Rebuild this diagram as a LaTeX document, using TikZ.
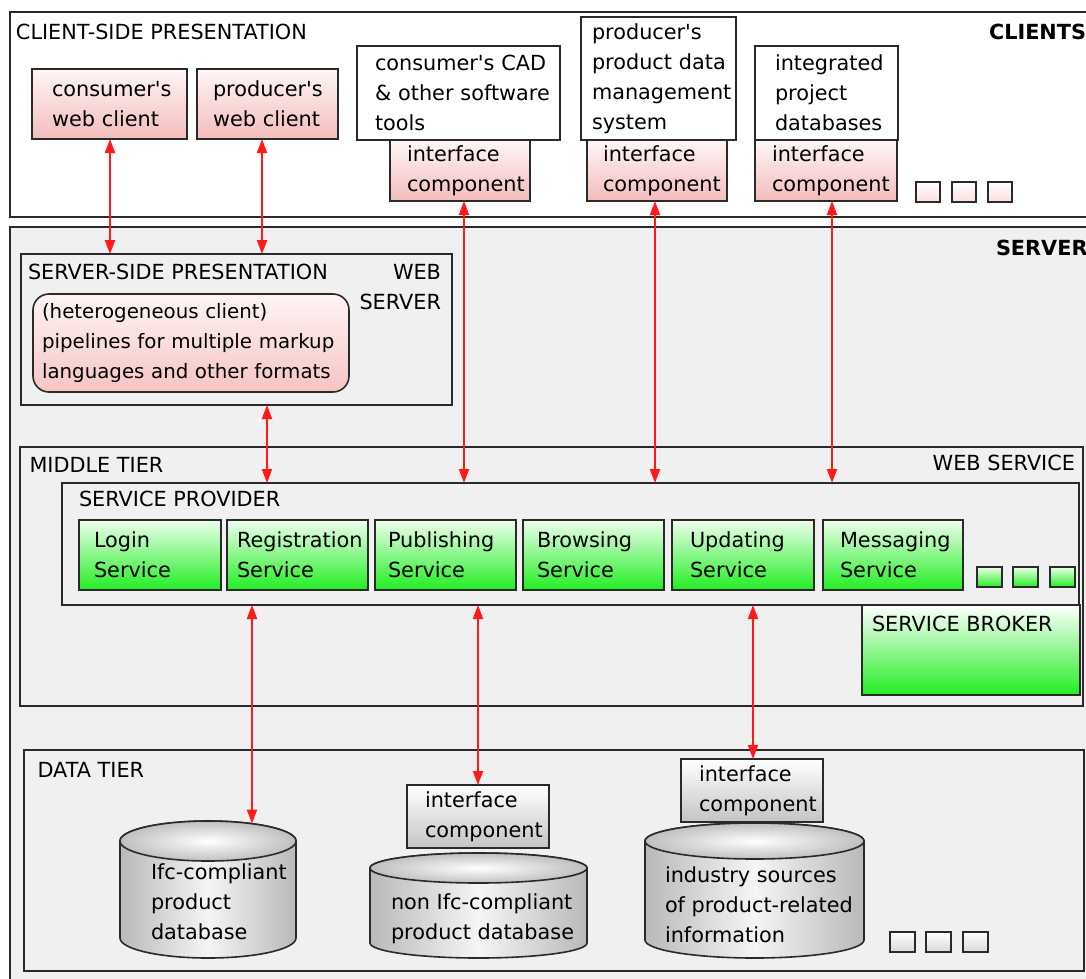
\documentclass[tikz,border=0pt]{standalone}
\usepackage{fontspec}
\setmainfont{DejaVu Sans}[Ligatures=TeXOff]
\usetikzlibrary{arrows.meta}
\definecolor{edge}{HTML}{2A2A2A}
\definecolor{srv}{HTML}{F0F0F0}
\definecolor{pinkT}{HTML}{FFF6F6}
\definecolor{pinkB}{HTML}{F3BCBC}
\definecolor{pipeT}{HTML}{FFF4F4}
\definecolor{pipeB}{HTML}{F5C4C4}
\definecolor{greenT}{HTML}{EEFFEE}
\definecolor{greenB}{HTML}{22EE22}
\definecolor{grayB}{HTML}{C4C4C4}
\definecolor{arrowred}{HTML}{FF1A1A}
\begin{document}
\begin{tikzpicture}[x=1pt,y=-1pt,
  every node/.style={inner sep=0pt, outer sep=0pt, font=\fontsize{20.8}{30}\selectfont, text=black,
    execute at begin node={\hyphenpenalty=10000 \exhyphenpenalty=10000 \hbadness=10000 \hfuzz=100pt}},
  ctr/.style={draw=edge, line width=1.6pt, anchor=north west, fill=srv},
  lbl/.style={anchor=base west},
  lblr/.style={anchor=base east},
  boldlbl/.style={anchor=base west, font=\fontsize{20.8}{30}\selectfont\bfseries},
  bx/.style={draw=edge, line width=1.6pt, anchor=north west, align=left},
  pinkb/.style={bx, top color=pinkT, bottom color=pinkB},
  whiteb/.style={bx, fill=white},
  greenb/.style={bx, top color=greenT, bottom color=greenB},
  grayb/.style={bx, top color=white, bottom color=grayB},
  sq/.style={draw=edge, line width=1.6pt, anchor=north west, minimum width=24pt, minimum height=20pt},
  cylbody/.style={draw=edge, line width=1.6pt, left color=gray!55, right color=gray!55, middle color=gray!8},
  cyltop/.style={draw=edge, line width=1.6pt, inner color=white, outer color=gray!50},
  link/.style={draw=arrowred, line width=2pt, {Triangle[length=14pt,width=10pt]}-{Triangle[length=14pt,width=10pt]}}
]
\useasboundingbox (0,0) rectangle (1086,978);
\clip (0,0) rectangle (1086,978);
\fill[white] (0,0) rectangle (1086,978);

% ---------- CLIENTS ----------
\node[ctr, fill=white, minimum width=1100pt, minimum height=205pt] (clients) at (10,12) {};
\node[lbl] (tcsp) at (16,39.5) {CLIENT-SIDE PRESENTATION};
\node[boldlbl] (tclients) at (989,39.5) {CLIENTS};

\node[pinkb, minimum height=70pt, inner xsep=20pt, text width=115pt] (cweb) at (32,69) {\mbox{consumer's}\\\mbox{web client}};
\node[pinkb, minimum height=70pt, inner xsep=16pt, text width=109pt] (pweb) at (197,69) {\mbox{producer's}\\\mbox{web client}};

\node[whiteb, minimum height=94pt, inner xsep=18pt, text width=167pt] (cad) at (357,46) {\mbox{consumer's CAD}\\\mbox{\& other software}\\\mbox{tools}};
\node[pinkb, minimum height=61pt, inner xsep=17pt, text width=106pt] (ic1) at (390,140) {\mbox{interface}\\\mbox{component}};

\node[whiteb, minimum height=123pt, inner xsep=11pt, text width=133pt] (pdm) at (581,17) {\mbox{producer's}\\\mbox{product data}\\\mbox{management}\\\mbox{system}};
\node[pinkb, minimum height=61pt, inner xsep=16pt, text width=108pt] (ic2) at (587,140) {\mbox{interface}\\\mbox{component}};

\node[whiteb, minimum height=94pt, inner xsep=20pt, text width=103pt] (ipd) at (755,46) {\mbox{integrated}\\\mbox{project}\\\mbox{databases}};
\node[pinkb, minimum height=61pt, inner xsep=17pt, text width=108pt] (ic3) at (755,140) {\mbox{interface}\\\mbox{component}};

\node[sq, top color=white, bottom color=pinkT!60!pinkB] (cs1) at (916,182) {};
\node[sq, top color=white, bottom color=pinkT!60!pinkB] (cs2) at (952,182) {};
\node[sq, top color=white, bottom color=pinkT!60!pinkB] (cs3) at (988,182) {};

% ---------- SERVER ----------
\node[ctr, minimum width=1100pt, minimum height=780pt] (server) at (10,227) {};
\node[boldlbl] (tserver) at (996,255.5) {SERVER};

\node[ctr, minimum width=431pt, minimum height=151pt] (ssp) at (21,254) {};
\node[lbl] (tssp) at (28,279.5) {SERVER-SIDE PRESENTATION};
\node[lblr] (tweb) at (441,279.5) {WEB};
\node[lblr] (tsrv) at (441,309.5) {SERVER};
\node[bx, rounded corners=16pt, top color=pipeT, bottom color=pipeB, minimum height=98pt, inner xsep=9pt, text width=298pt, font=\fontsize{19.8}{30}\selectfont] (pipe) at (33,294) {\mbox{(heterogeneous client)}\\\mbox{pipelines for multiple markup}\\\mbox{languages and other formats}};

% middle tier
\node[ctr, minimum width=1063pt, minimum height=259pt] (mid) at (20,447) {};
\node[lbl] (tmid) at (29.5,472.5) {MIDDLE TIER};
\node[lblr] (tws) at (1075,470.5) {WEB SERVICE};

\node[ctr, minimum width=1017pt, minimum height=122pt] (sp) at (62,483) {};
\node[lbl] (tsp) at (79,506.5) {SERVICE PROVIDER};

\node[greenb, minimum height=70pt, inner xsep=15pt, text width=112pt] (login) at (79,520) {\mbox{Login}\\\mbox{Service}};
\node[greenb, minimum height=70pt, inner xsep=10pt, text width=121pt] (reg) at (227,520) {\mbox{Registration}\\\mbox{Service}};
\node[greenb, minimum height=70pt, inner xsep=13pt, text width=115pt] (pub) at (375,520) {\mbox{Publishing}\\\mbox{Service}};
\node[greenb, minimum height=70pt, inner xsep=14pt, text width=113pt] (brow) at (523,520) {\mbox{Browsing}\\\mbox{Service}};
\node[greenb, minimum height=70pt, inner xsep=18pt, text width=106pt] (upd) at (672,520) {\mbox{Updating}\\\mbox{Service}};
\node[greenb, minimum height=70pt, inner xsep=17pt, text width=106pt] (msg) at (823,520) {\mbox{Messaging}\\\mbox{Service}};

\node[sq, minimum width=25pt, top color=greenT, bottom color=greenB] (gs1) at (977,567) {};
\node[sq, minimum width=25pt, top color=greenT, bottom color=greenB] (gs2) at (1013,567) {};
\node[sq, minimum width=25pt, top color=greenT, bottom color=greenB] (gs3) at (1050,567) {};

\node[bx, top color=white, bottom color=greenB, minimum width=218pt, minimum height=90pt] (broker) at (862,605) {};
\node[lbl] (tbroker) at (872,631.5) {SERVICE BROKER};

% data tier
\node[ctr, minimum width=1060pt, minimum height=221pt] (data) at (24,750) {};
\node[lbl] (tdata) at (37.5,777.5) {DATA TIER};

% cylinder 1
\path[cylbody] (120,841) -- (120,938) arc[start angle=180,end angle=360,x radius=88pt,y radius=20pt] -- (296,841) arc[start angle=0,end angle=180,x radius=88pt,y radius=20pt] -- cycle;
\draw[cyltop] (208,841) ellipse[x radius=88pt, y radius=20pt];
\coordinate (cyl1top) at (252,823.5);
\node[anchor=west, align=left] (cyl1txt) at (151,902) {Ifc-compliant\\product\\database};

% cylinder 2
\path[cylbody] (370,868) -- (370,943) arc[start angle=180,end angle=360,x radius=108.5pt,y radius=15pt] -- (587,868) arc[start angle=0,end angle=180,x radius=108.5pt,y radius=15pt] -- cycle;
\draw[cyltop] (478.5,868) ellipse[x radius=108.5pt, y radius=15pt];
\node[anchor=west, align=left] (cyl2txt) at (391,919) {non Ifc-compliant\\product database};
\node[grayb, minimum height=63pt, inner xsep=18pt, text width=106pt] (icd1) at (407,785) {\mbox{interface}\\\mbox{component}};

% cylinder 3
\path[cylbody] (645,841) -- (645,940) arc[start angle=180,end angle=360,x radius=109.5pt,y radius=18pt] -- (864,841) arc[start angle=0,end angle=180,x radius=109.5pt,y radius=18pt] -- cycle;
\draw[cyltop] (754.5,841) ellipse[x radius=109.5pt, y radius=18pt];
\node[anchor=west, align=left] (cyl3txt) at (665,905) {industry sources\\of product-related\\information};
\node[grayb, minimum height=63pt, inner xsep=18pt, text width=106pt] (icd2) at (681,759) {\mbox{interface}\\\mbox{component}};

\node[sq, minimum width=25pt, top color=white, bottom color=gray!30] (ds1) at (890,932) {};
\node[sq, minimum width=25pt, top color=white, bottom color=gray!30] (ds2) at (926,932) {};
\node[sq, minimum width=25pt, top color=white, bottom color=gray!30] (ds3) at (963,932) {};

% ---------- connectors ----------
\coordinate (x1) at (110,0);
\coordinate (x2) at (262,0);
\coordinate (x3) at (464,0);
\coordinate (x4) at (655,0);
\coordinate (x5) at (832,0);
\coordinate (x6) at (267,0);
\coordinate (x8) at (478,0);
\coordinate (x9) at (753,0);

\draw[link] (x1 |- cweb.south) -- (x1 |- ssp.north);
\draw[link] (x2 |- pweb.south) -- (x2 |- ssp.north);
\draw[link] (x3 |- ic1.south) -- (x3 |- sp.north);
\draw[link] (x4 |- ic2.south) -- (x4 |- sp.north);
\draw[link] (x5 |- ic3.south) -- (x5 |- sp.north);
\draw[link] (x6 |- ssp.south) -- (x6 |- sp.north);
\draw[link] (cyl1top |- sp.south) -- (cyl1top);
\draw[link] (x8 |- sp.south) -- (x8 |- icd1.north);
\draw[link] (x9 |- sp.south) -- (x9 |- icd2.north);
\end{tikzpicture}
\end{document}
